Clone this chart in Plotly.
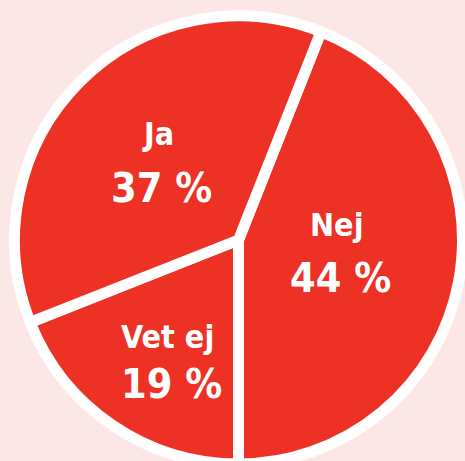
import plotly.graph_objects as go

# Data
labels = ["Nej", "Vet ej", "Ja"]
values = [44, 19, 37]

# Layout constants
W, H = 477, 464
MT = 16
BG = "#FDE6E6"
RED = "#EE3125"
FONT = "DejaVu Sans Condensed, DejaVu Sans, sans-serif"

fig = go.Figure(go.Pie(
    labels=labels,
    values=values,
    sort=False,
    direction="clockwise",
    rotation=360 * (50 - values[0]) / 100,
    marker=dict(colors=[RED] * len(values), line=dict(color="white", width=11)),
    textinfo="none",
    hoverinfo="skip",
    showlegend=False,
))

# text label positions (pixel centers) -> paper coords
name_pos = {"Nej": (336, 225), "Vet ej": (167, 337), "Ja": (158, 134)}
pct_pos = {"Nej": (340, 278), "Vet ej": (171, 384), "Ja": (161, 188)}


def px2paper(x, y):
    return x / W, 1 - (y - MT) / (H - MT)


annotations = []
for lab, val in zip(labels, values):
    x, y = px2paper(*name_pos[lab])
    annotations.append(dict(x=x, y=y, xref="paper", yref="paper", text=lab,
                            showarrow=False, xanchor="center", yanchor="middle",
                            font=dict(family=FONT, size=32, color="white", weight="bold")))
    x, y = px2paper(*pct_pos[lab])
    annotations.append(dict(x=x, y=y, xref="paper", yref="paper", text=f"{val} %",
                            showarrow=False, xanchor="center", yanchor="middle",
                            font=dict(family=FONT, size=41, color="white", weight="bold")))

fig.update_layout(
    width=W, height=H,
    margin=dict(l=0, r=0, t=MT, b=0, pad=0),
    paper_bgcolor=BG, plot_bgcolor=BG,
    annotations=annotations,
)

fig.write_html(
    "out.html",
    config={"displayModeBar": False},
    post_script="document.body.style.margin='0';document.body.style.overflow='hidden';document.documentElement.style.overflow='hidden';document.body.style.background='" + BG + "';",
)
